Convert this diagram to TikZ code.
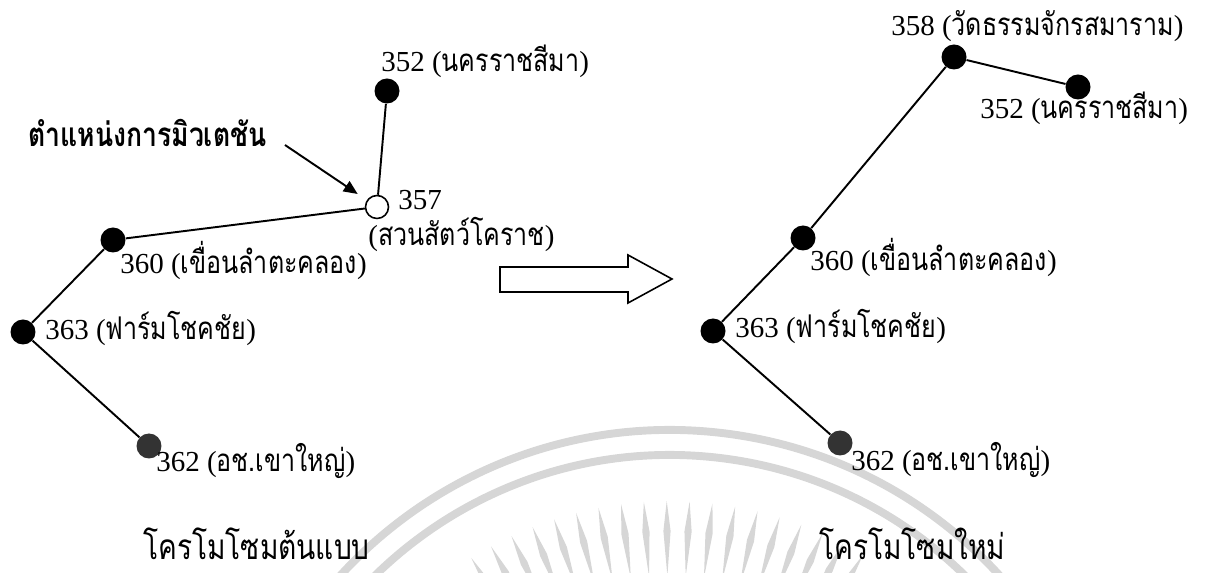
\documentclass[tikz,border=0pt]{standalone}
\usepackage{fontspec}
\usepackage{tikz}
\usetikzlibrary{arrows.meta}
\setmainfont{Liberation Serif}
\newfontfamily\thaiFont[Script=Thai, Scale=1.08, FakeStretch=0.8]{Loma}
\tikzstyle{pixelGrid} = [x = 0.02cm, y = -0.02cm]
\definecolor{waterColor}{RGB}{214,214,214}
\tikzstyle{geneDot} = [circle, fill=black, inner sep=0pt, minimum size=0.5cm]
\tikzstyle{fadedDot} = [geneDot, fill=black!80]
\tikzstyle{mutantDot} = [circle, draw=black, fill=white, line width=0.9pt, inner sep=0pt, minimum size=0.46cm]
\tikzstyle{geneLink} = [line width=1.1pt]
\tikzstyle{geneText} = [anchor=base west, inner sep=0pt, font=\fontsize{16.5}{18}\selectfont]
\tikzstyle{siteText} = [geneText, font=\fontsize{17.5}{18}\selectfont\thaiFont\bfseries]
\tikzstyle{captionText} = [geneText, font=\fontsize{18.5}{20}\selectfont\thaiFont]
\tikzstyle{siteArrow} = [line width=1.1pt, -{Triangle[length=0.28cm, width=0.24cm]}, shorten >=0.22cm]
\tikzstyle{blockArrow} = [draw=black, fill=white, line width=0.9pt]
\tikzstyle{waterArc} = [color=waterColor, line width=4.5pt]
\tikzstyle{waterRay} = [fill=waterColor]
\newcommand{\geneName}[2]{#1 ({\thaiFont #2})}
\newcommand{\waterRay}[1]{\fill [waterRay] (#1:300) -- (#1-0.6:345) -- (#1:375) -- (#1+0.6:345) -- cycle;}

\begin{document}
\begin{tikzpicture}[pixelGrid]
  \useasboundingbox (0,0) rectangle (1207,573);

  % faint seal behind the chromosomes
  \begin{scope}
    \clip (0,0) rectangle (1207,573);
    \draw [waterArc] (670,876) ++(190:446) arc [start angle=190, end angle=350, radius=446];
    \draw [waterArc] (670,876) ++(190:421) arc [start angle=190, end angle=350, radius=421];
    \begin{scope}[shift={(670,876)}]
      \foreach \a in {238,241.5,...,302} {
        \waterRay{\a}
      }
    \end{scope}
  \end{scope}

  % original chromosome
  \node [geneDot] (lNakhon) at (387,91) {};
  \node [mutantDot] (lZoo) at (377,207) {};
  \node [geneDot] (lDam) at (113,240) {};
  \node [geneDot] (lFarm) at (23,332) {};
  \node [fadedDot] (lPark) at (149,446) {};
  \draw [geneLink] (lNakhon) -- (lZoo) -- (lDam) -- (lFarm) -- (lPark);

  \node [geneText] (lNakhonText) at (381,72) {\geneName{352}{นครราชสีมา}};
  \node [geneText] (lZooNum) at (398,210) {357};
  \node [geneText] (lZooText) at (368,246) {({\thaiFont สวนสัตว์โคราช})};
  \node [geneText] (lDamText) at (120,274) {\geneName{360}{เขื่อนลำตะคลอง}};
  \node [geneText] (lFarmText) at (45,340) {\geneName{363}{ฟาร์มโชคชัย}};
  \node [geneText] (lParkText) at (156,472) {\geneName{362}{อช.เขาใหญ่}};

  \node [siteText] (siteText) at (28,147) {ตำแหน่งการมิวเตชัน};
  \coordinate (siteTail) at (285,145);
  \draw [siteArrow] (siteTail) -- (lZoo);

  % mutation step
  \draw [blockArrow] (500,267) -- (628,267) -- (628,255) -- (672,279) -- (628,303) -- (628,292) -- (500,292) -- cycle;

  % new chromosome
  \node [geneDot] (rWat) at (954,57) {};
  \node [geneDot] (rNakhon) at (1078,87) {};
  \node [geneDot] (rDam) at (803,238) {};
  \node [geneDot] (rFarm) at (713,331) {};
  \node [fadedDot] (rPark) at (840,443) {};
  \draw [geneLink] (rNakhon) -- (rWat) -- (rDam) -- (rFarm) -- (rPark);

  \node [geneText] (rWatText) at (891,36) {\geneName{358}{วัดธรรมจักรสมาราม}};
  \node [geneText] (rNakhonText) at (980,119) {\geneName{352}{นครราชสีมา}};
  \node [geneText] (rDamText) at (810,271) {\geneName{360}{เขื่อนลำตะคลอง}};
  \node [geneText] (rFarmText) at (735,338) {\geneName{363}{ฟาร์มโชคชัย}};
  \node [geneText] (rParkText) at (851,471) {\geneName{362}{อช.เขาใหญ่}};

  \node [captionText] (oldCaption) at (143,560) {โครโมโซมต้นแบบ};
  \node [captionText] (newCaption) at (819,560) {โครโมโซมใหม่};
\end{tikzpicture}
\end{document}
